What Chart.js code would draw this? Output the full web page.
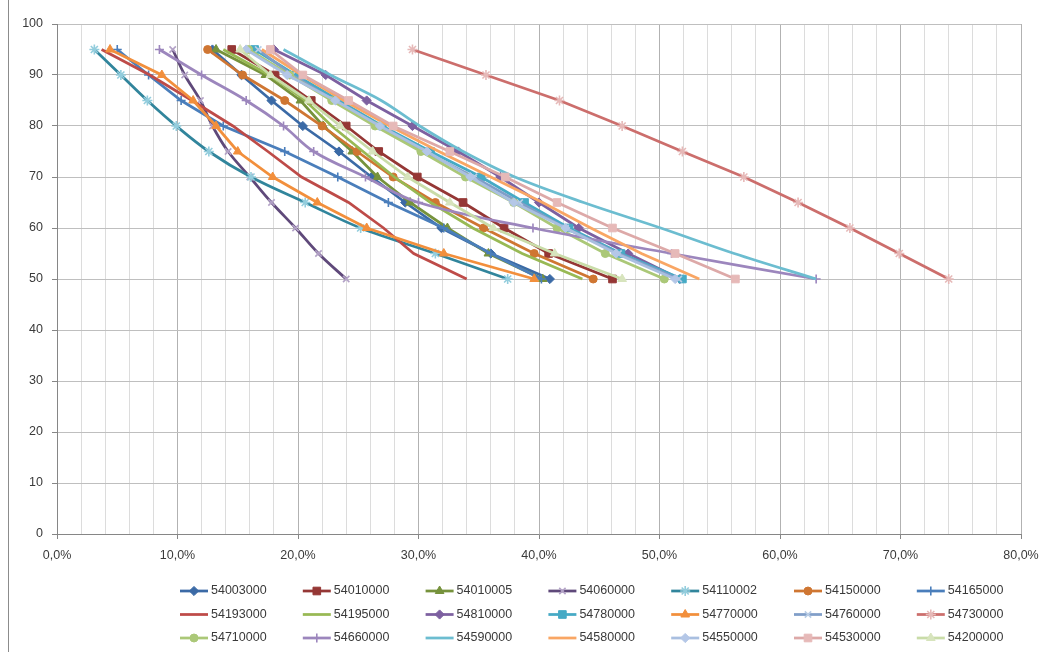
<!DOCTYPE html>
<html>
<head>
<meta charset="utf-8">
<title>Station profiles</title>
<script src="https://cdn.jsdelivr.net/npm/chart.js@4.4.1/dist/chart.umd.min.js"></script>
<style>
  html, body { margin: 0; padding: 0; background: #fff; }
  #wrap { width: 1043px; height: 652px; position: relative; }
</style>
</head>
<body>
<div id="wrap"><canvas id="profileChart" width="1043" height="652"></canvas></div>
<script>
// Levels (y) shared by every station, values in percent (x)
const levels = [95, 90, 85, 80, 75, 70, 65, 60, 55, 50];

const st54003000 = [12.9, 15.3, 17.8, 20.4, 23.4, 26.1, 28.9, 31.9, 36.0, 40.9];
const st54010000 = [14.5, 18.1, 21.1, 24.0, 26.7, 29.9, 33.7, 37.1, 40.8, 46.1];
const st54010005 = [13.2, 17.3, 20.2, 22.1, 24.5, 26.6, 29.3, 32.4, 35.8, 40.3];
const st54060000 = [9.6, 10.6, 11.9, 12.9, 14.2, 16.0, 17.8, 19.8, 21.7, 24.0];
const st54110002 = [3.1, 5.3, 7.5, 9.9, 12.6, 16.1, 20.6, 25.2, 31.4, 37.4];
const st54150000 = [12.5, 15.4, 18.9, 22.0, 24.9, 27.9, 31.4, 35.4, 39.6, 44.5];
const st54165000 = [5.0, 7.6, 10.3, 13.8, 18.9, 23.3, 27.5, 32.1, 36.0, 40.2];
const st54193000 = [3.7, 7.7, 11.2, 14.6, 17.5, 20.3, 24.2, 27.1, 29.6, 34.0];
const st54195000 = [13.8, 17.6, 20.6, 22.8, 25.4, 28.0, 31.0, 34.5, 38.6, 43.6];
const st54810000 = [18.0, 22.3, 25.7, 29.5, 33.3, 36.8, 40.0, 43.3, 47.4, 51.7];
const st54780000 = [16.4, 19.8, 23.4, 27.0, 31.0, 35.2, 38.8, 42.5, 46.8, 51.9];
const st54770000 = [4.4, 8.7, 11.3, 13.2, 15.0, 17.9, 21.6, 25.7, 32.1, 39.6];
const st54760000 = [16.7, 19.5, 23.0, 26.6, 30.5, 34.6, 38.4, 42.2, 46.6, 51.6];
const st54730000 = [29.5, 35.6, 41.7, 46.9, 51.9, 57.0, 61.5, 65.8, 69.9, 74.0];
const st54710000 = [15.9, 19.3, 22.8, 26.4, 30.2, 33.9, 37.9, 41.5, 45.5, 50.4];
const st54660000 = [8.5, 12.0, 15.7, 18.8, 21.3, 25.6, 30.0, 39.5, 51.0, 63.0];
const st54590000 = [18.8, 22.7, 26.9, 30.1, 33.7, 38.0, 43.7, 50.1, 56.2, 63.0];
const st54580000 = [17.0, 20.3, 23.8, 27.6, 31.7, 36.0, 40.3, 44.3, 48.5, 53.3];
const st54550000 = [15.7, 19.1, 23.1, 26.8, 30.7, 34.3, 37.9, 42.2, 46.4, 51.3];
const st54530000 = [17.7, 20.4, 24.2, 27.9, 32.6, 37.2, 41.5, 46.1, 51.3, 56.3];
const st54200000 = [15.2, 17.7, 20.9, 23.5, 26.2, 29.1, 32.6, 36.2, 41.3, 46.9];

const stationNames = [
  '54003000', '54010000', '54010005', '54060000', '54110002', '54150000', '54165000',
  '54193000', '54195000', '54810000', '54780000', '54770000', '54760000', '54730000',
  '54710000', '54660000', '54590000', '54580000', '54550000', '54530000', '54200000'
];
const stationValues = [
  st54003000, st54010000, st54010005, st54060000, st54110002, st54150000, st54165000,
  st54193000, st54195000, st54810000, st54780000, st54770000, st54760000, st54730000,
  st54710000, st54660000, st54590000, st54580000, st54550000, st54530000, st54200000
];

// x-axis ticks: minor every 2 %, labelled every 10 %
const xTickStep = 2;
const xLabelStep = 10;

// styling per station (same order as stationNames)
const lineColors = [
  '#3B6AA6', '#953735', '#76923C', '#5F497A', '#31859C', '#CF7632', '#4A7EBB',
  '#BE4B48', '#98B954', '#7D60A0', '#46AAC5', '#F28F3C', '#809EC8', '#CC6E6C',
  '#ABC878', '#9C86BD', '#6CBDD0', '#F9A664', '#A9BFE0', '#DDA9A8', '#C9DCA8'
];
const markerColors = [
  '#3B6AA6', '#953735', '#76923C', '#B3A2C7', '#93CDDD', '#CF7632', '#4A7EBB',
  '#BE4B48', '#98B954', '#7D60A0', '#46AAC5', '#F28F3C', '#B9CDE5', '#E6B9B8',
  '#ABC878', '#9C86BD', '#6CBDD0', '#F9A664', '#B4C7E7', '#E6B9B8', '#D7E4BD'
];
const markerStyles = [
  'rectRot', 'rect', 'triangle', 'crossRot', 'star', 'circle', 'cross',
  null, null, 'rectRot', 'rect', 'triangle', 'crossRot', 'star',
  'circle', 'cross', null, null, 'rectRot', 'rect', 'triangle'
];
const markerSize = { rectRot: 4.6, rect: 5.4, triangle: 5, crossRot: 4.5, star: 5, circle: 4, cross: 4.5 };
const curvedLines = ['54060000', '54110002', '54660000', '54590000'];

const FONT = '"Liberation Sans", Arial, sans-serif';
Chart.defaults.font.family = FONT;
Chart.defaults.font.size = 12.5;
Chart.defaults.color = '#3a3a3a';

const datasets = stationNames.map((name, i) => {
  const style = markerStyles[i];
  const lineOnly = style === null;
  return {
    label: name,
    data: levels.map((lvl, k) => ({ x: stationValues[i][k], y: lvl })),
    showLine: true,
    borderColor: lineColors[i],
    backgroundColor: lineColors[i],
    borderWidth: 2.75,
    tension: curvedLines.includes(name) ? 0.35 : 0,
    pointStyle: lineOnly ? 'circle' : style,
    pointRadius: lineOnly ? 0 : markerSize[style],
    pointHoverRadius: lineOnly ? 0 : markerSize[style],
    pointBackgroundColor: markerColors[i],
    pointBorderColor: markerColors[i],
    pointBorderWidth: (style === 'crossRot' || style === 'star' || style === 'cross') ? 1.6 : 1,
    order: stationNames.length - i
  };
});

// white background plus the frame line on the left edge
const chartFrame = {
  id: 'chartFrame',
  beforeDraw(chart) {
    const ctx = chart.ctx;
    ctx.save();
    ctx.fillStyle = '#ffffff';
    ctx.fillRect(0, 0, chart.width, chart.height);
    ctx.strokeStyle = '#8c8c8c';
    ctx.lineWidth = 1;
    ctx.beginPath();
    ctx.moveTo(8.5, 0);
    ctx.lineTo(8.5, chart.height);
    ctx.stroke();
    ctx.restore();
  }
};

// legend: 7 columns x 3 rows, a short line with the marker, then the station id
const stationLegend = {
  id: 'stationLegend',
  afterDraw(chart) {
    const ctx = chart.ctx;
    const left = 180, colStep = 122.8, top = 591, rowStep = 23.5, lineLen = 28;
    ctx.save();
    ctx.font = '12.5px ' + FONT;
    ctx.textBaseline = 'middle';
    ctx.textAlign = 'left';
    chart.data.datasets.forEach((ds, i) => {
      const x = left + (i % 7) * colStep;
      const y = top + Math.floor(i / 7) * rowStep;
      ctx.strokeStyle = ds.borderColor;
      ctx.lineWidth = ds.borderWidth;
      ctx.beginPath();
      ctx.moveTo(x, y);
      ctx.lineTo(x + lineLen, y);
      ctx.stroke();
      if (ds.pointRadius > 0 && Chart.helpers && Chart.helpers.drawPoint) {
        ctx.fillStyle = ds.pointBackgroundColor;
        ctx.strokeStyle = ds.pointBorderColor;
        ctx.lineWidth = ds.pointBorderWidth;
        Chart.helpers.drawPoint(ctx, {
          pointStyle: ds.pointStyle,
          radius: ds.pointRadius,
          borderWidth: ds.pointBorderWidth,
          rotation: 0
        }, x + lineLen / 2, y);
      }
      ctx.fillStyle = '#3a3a3a';
      ctx.fillText(ds.label, x + lineLen + 3, y);
    });
    ctx.restore();
  }
};

const isMajor = v => Math.round(v) % xLabelStep === 0;

new Chart(document.getElementById('profileChart'), {
  type: 'scatter',
  data: { datasets },
  plugins: [chartFrame, stationLegend],
  options: {
    responsive: false,
    animation: false,
    layout: { padding: { top: 24, right: 22, bottom: 80, left: 0 } },
    plugins: {
      legend: { display: false },
      tooltip: { enabled: false }
    },
    scales: {
      x: {
        type: 'linear',
        min: 0,
        max: 80,
        ticks: {
          stepSize: xTickStep,
          autoSkip: false,
          maxRotation: 0,
          minRotation: 0,
          padding: 9,
          callback: v => isMajor(v) ? v.toFixed(1).replace('.', ',') + '%' : ''
        },
        grid: {
          color: c => (c.tick && isMajor(c.tick.value)) ? '#B2B2B2' : '#DCDCDC',
          tickColor: c => (c.tick && isMajor(c.tick.value)) ? '#868686' : 'rgba(0,0,0,0)',
          tickLength: 5,
          lineWidth: 1
        },
        border: { color: '#868686', width: 1 },
        afterFit: scale => {
          scale.height = 38;
          scale.paddingLeft = 0;
          scale.paddingRight = 0;
        }
      },
      y: {
        min: 0,
        max: 100,
        ticks: { stepSize: 10, padding: 9 },
        grid: { color: '#BFBFBF', tickColor: '#868686', tickLength: 5, lineWidth: 1 },
        border: { color: '#868686', width: 1 },
        afterFit: scale => { scale.width = 57; }
      }
    }
  }
});
</script>
</body>
</html>
